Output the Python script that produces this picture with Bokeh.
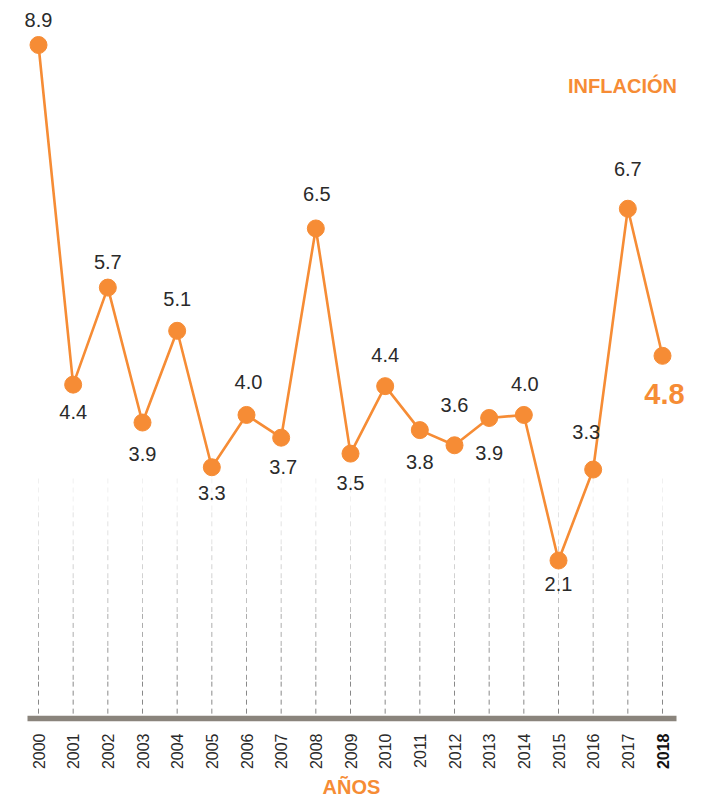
from bokeh.plotting import figure
from bokeh.models import ColumnDataSource
from bokeh.core.properties import value
from bokeh.embed import file_html
from bokeh.resources import INLINE
import math

# ---------------- data ----------------
years = [2000, 2001, 2002, 2003, 2004, 2005, 2006, 2007, 2008, 2009,
         2010, 2011, 2012, 2013, 2014, 2015, 2016, 2017, 2018]
year_labels = ["2000", "2001", "2002", "2003", "2004", "2005", "2006", "2007", "2008", "2009",
               "2010", "2011", "2012", "2013", "2014", "2015", "2016", "2017", "2018"]
inflation = [8.9, 4.42, 5.7, 3.92, 5.13, 3.33, 4.02, 3.72, 6.48, 3.51,
             4.4, 3.82, 3.62, 3.98, 4.02, 2.1, 3.3, 6.74, 4.8]
value_labels = ["8.9", "4.4", "5.7", "3.9", "5.1", "3.3", "4.0", "3.7", "6.5", "3.5",
                "4.4", "3.8", "3.6", "3.9", "4.0", "2.1", "3.3", "6.7", "4.8"]

# label offsets in screen pixels (layout, not data): negative = above
label_dy = [-25, 27, -26, 31, -32, 26, -33, 29, -34, 29,
            -31, 32, -40, 35, -31, 23, -38, -40, 38]
label_dx = [0, 0, 0, 0, 0, 0, 2, 2, 1, 0,
            0, 0, 0, 0, 1, 0, -7, 0, 2]

# ---------------- layout ----------------
W, H = 711, 798
PX_PER_YEAR = 34.667
X0_PX = 38.0            # pixel of first year
PX_PER_UNIT = 75.81
Y_TOP_VAL = 8.9 + 44.5 / PX_PER_UNIT

def xd(px):
    return years[0] + (px - X0_PX) / PX_PER_YEAR

def yd(py):
    return Y_TOP_VAL - py / PX_PER_UNIT

ORANGE = "#f68c35"
DARK = "#2a2a2a"
FONT = value("Liberation Sans")

p = figure(width=W, height=H, output_backend="svg", toolbar_location=None,
           x_range=(xd(0), xd(W)), y_range=(yd(H), yd(0)),
           x_axis_type=None, y_axis_type=None, min_border=0,
           background_fill_color="white", border_fill_color="white")
p.outline_line_color = None
p.grid.visible = False

# dashed vertical guide lines with a fading gradient
band_top, band_bot = 478, 715
greys = ["#f0f0f0", "#e2e2e2", "#d2d2d2", "#c0c0c0", "#acacac", "#989898", "#888888"]
bands = len(greys)
for b in range(bands):
    t0 = band_top + (band_bot - band_top) * b / bands
    t1 = band_top + (band_bot - band_top) * (b + 1) / bands
    p.segment(x0=years, x1=years, y0=[yd(t0)] * len(years), y1=[yd(t1)] * len(years),
              line_color=greys[b], line_width=1, line_dash="5 4")

# baseline axis
p.segment(x0=[xd(27)], x1=[xd(676)], y0=[yd(718)], y1=[yd(718)],
          line_color="#8a847c", line_width=5.5)

# series
src = ColumnDataSource(dict(x=years, y=inflation))
p.line("x", "y", source=src, line_color=ORANGE, line_width=2.6)
p.scatter("x", "y", source=src, size=17, fill_color=ORANGE, line_color=ORANGE)

# value labels (all except last)
n = len(years) - 1
lab = ColumnDataSource(dict(
    x=[years[i] + label_dx[i] / PX_PER_YEAR for i in range(n)],
    y=[inflation[i] - label_dy[i] / PX_PER_UNIT for i in range(n)],
    t=value_labels[:n]))
p.text("x", "y", text="t", source=lab, text_font=FONT, text_font_size="20px",
       text_color=DARK, text_align="center", text_baseline="middle")

# highlighted last value
last = len(years) - 1
p.text(x=[years[last] + label_dx[last] / PX_PER_YEAR],
       y=[inflation[last] - label_dy[last] / PX_PER_UNIT],
       text=[value_labels[last]], text_font=FONT, text_font_size="29px",
       text_font_style="bold", text_color=ORANGE,
       text_align="center", text_baseline="middle")

# year tick labels (rotated)
p.text(x=years[:-1], y=[yd(733)] * (len(years) - 1), text=year_labels[:-1],
       angle=math.pi / 2, text_font=FONT, text_font_size="16px", text_color=DARK,
       text_align="right", text_baseline="middle")
p.text(x=[years[-1]], y=[yd(733)], text=[year_labels[-1]],
       angle=math.pi / 2, text_font=FONT, text_font_size="16px", text_color="#111111",
       text_font_style="bold", text_align="right", text_baseline="middle")

# titles
p.text(x=[xd(622)], y=[yd(85)], text=["INFLACIÓN"], text_font=FONT,
       text_font_size="20px", text_font_style="bold", text_color=ORANGE,
       text_align="center", text_baseline="middle")
p.text(x=[xd(351)], y=[yd(797)], text=["AÑOS"], text_font=FONT,
       text_font_size="20px", text_font_style="bold", text_color=ORANGE,
       text_align="center", text_baseline="bottom")

open("out.html", "w").write(file_html(p, INLINE))
